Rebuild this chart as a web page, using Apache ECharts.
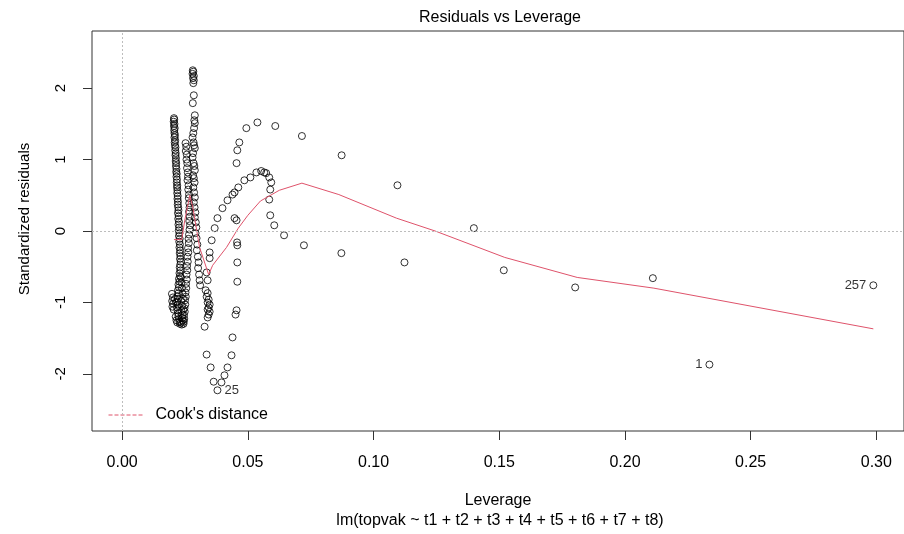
<!DOCTYPE html>
<html><head><meta charset="utf-8">
<script src="https://cdn.jsdelivr.net/npm/echarts@6/dist/echarts.min.js"></script>
<style>html,body{margin:0;padding:0;background:#fff}#c{width:904px;height:534px}</style>
</head><body><div id="c"></div>
<script>
const FONT = '"Liberation Sans", Arial, Helvetica, sans-serif';

// tick values and labels
const xTicks = [0, 0.05, 0.10, 0.15, 0.20, 0.25, 0.30];
const xTickLabels = ['0.00', '0.05', '0.10', '0.15', '0.20', '0.25', '0.30'];
const yTicks = [-2, -1, 0, 1, 2];
const yTickLabels = ['-2', '-1', '0', '1', '2'];

// observations [leverage, standardized residual]
const stripA = [[.0206,1.58],[.0207,1.56],[.0205,1.53],[.0208,1.50],[.0206,1.47],[.0209,1.44],[.0207,1.41],[.0208,1.37],[.0210,1.34],[.0208,1.31],[.0211,1.27],[.0209,1.24],[.0210,1.20],[.0212,1.17],[.0211,1.13],[.0213,1.09],[.0212,1.06],[.0214,1.02],[.0213,0.98],[.0215,0.95],[.0214,0.91],[.0216,0.87],[.0215,0.83],[.0217,0.80],[.0216,0.76],[.0218,0.72],[.0217,0.68],[.0219,0.64],[.0218,0.61],[.0220,0.57],[.0219,0.53],[.0221,0.49],[.0220,0.45],[.0222,0.41],[.0221,0.37],[.0223,0.33],[.0224,0.29],[.0222,0.25],[.0225,0.21],[.0223,0.17],[.0226,0.13],[.0224,0.09],[.0227,0.05],[.0225,0.01],[.0228,-0.03],[.0226,-0.07],[.0229,-0.11],[.0227,-0.15],[.0230,-0.19],[.0228,-0.23],[.0231,-0.27],[.0229,-0.31],[.0232,-0.35],[.0230,-0.39],[.0233,-0.43],[.0231,-0.47],[.0229,-0.51],[.0232,-0.55],[.0228,-0.59],[.0230,-0.63],[.0226,-0.67],[.0228,-0.71],[.0224,-0.75],[.0226,-0.79],[.0222,-0.83],[.0224,-0.87],[.0220,-0.91],[.0222,-0.95],[.0219,-0.99],[.0221,-1.03],[.0218,-1.07],[.0220,-1.11],[.0222,-1.15],[.0224,-1.19],[.0226,-1.23],[.0228,-1.27],[.0230,-1.30]];
const clusterLow = [[.0198,-0.88],[.0202,-0.93],[.0199,-0.98],[.0203,-1.02],[.0200,-1.06],[.0205,-1.10],[.0210,-0.95],[.0214,-1.00],[.0213,-1.20],[.0216,-1.25],[.0219,-1.28],[.0235,-0.98],[.0238,-1.05],[.0236,-1.12],[.0240,-1.17],[.0239,-1.22],[.0234,-1.28],[.0237,-1.31],[.0241,-1.25],[.0243,-1.10],[.0242,-0.95],[.0240,-0.88],[.0238,-0.80],[.0236,-0.72],[.0234,-0.65]];
const stripB = [[.0252,1.23],[.0255,1.18],[.0253,1.12],[.0257,1.07],[.0256,1.00],[.0259,0.95],[.0258,0.88],[.0261,0.82],[.0262,0.76],[.0260,0.71],[.0264,0.64],[.0263,0.58],[.0266,0.51],[.0265,0.46],[.0267,0.39],[.0268,0.33],[.0266,0.27],[.0269,0.20],[.0267,0.14],[.0270,0.08],[.0268,0.02],[.0266,-0.05],[.0264,-0.11],[.0265,-0.17],[.0262,-0.24],[.0263,-0.30],[.0260,-0.36],[.0261,-0.43],[.0258,-0.49],[.0259,-0.55],[.0256,-0.61],[.0257,-0.68],[.0254,-0.74],[.0255,-0.80],[.0252,-0.86],[.0253,-0.92],[.0250,-0.97],[.0251,-1.03],[.0248,-1.08],[.0249,-1.13],[.0246,-1.18],[.0247,-1.23],[.0245,-1.27],[.0244,-1.30]];
const stripC = [[.0281,2.25],[.0283,2.23],[.0280,2.20],[.0285,2.17],[.0282,2.14],[.0285,2.11],[.0283,2.07],[.0285,1.90],[.0281,1.79],[.0289,1.62],[.0287,1.55],[.0289,1.51],[.0286,1.44],[.0283,1.37],[.0280,1.31],[.0284,1.24],[.0286,1.20],[.0289,1.16],[.0282,1.09],[.0280,1.03],[.0284,0.95],[.0287,0.91],[.0289,0.85],[.0282,0.78],[.0285,0.74],[.0288,0.68],[.0283,0.61],[.0286,0.54],[.0289,0.47],[.0285,0.40],[.0288,0.33],[.0291,0.26],[.0289,0.19],[.0293,0.12],[.0295,0.05],[.0292,-0.03],[.0296,-0.10],[.0299,-0.19],[.0297,-0.27],[.0301,-0.36],[.0304,-0.44],[.0302,-0.52],[.0306,-0.61],[.0308,-0.69],[.0310,-0.76]];
const clusterC = [[.0332,-0.83],[.0340,-0.87],[.0336,-0.92],[.0344,-0.96],[.0340,-1.00],[.0348,-1.03],[.0344,-1.07],[.0340,-1.10],[.0348,-1.13],[.0344,-1.17],[.0340,-1.21],[.0328,-1.34]];
const vee = [[.0336,-1.73],[.0352,-1.91],[.0364,-2.11],[.0395,-2.12],[.0407,-2.02],[.0419,-1.91],[.0435,-1.74],[.0439,-1.49],[.0451,-1.17],[.0455,-1.11],[.0458,-0.71],[.0458,-0.44],[.0458,-0.20],[.0457,-0.16],[.0455,0.15],[.0455,0.95],[.0458,1.13],[.0466,1.24]];
const arc = [[.0340,-0.69],[.0336,-0.58],[.0348,-0.38],[.0348,-0.30],[.0356,-0.13],[.0368,0.04],[.0379,0.18],[.0399,0.32],[.0419,0.43],[.0439,0.51],[.0447,0.54],[.0462,0.61],[.0486,0.71],[.0510,0.75],[.0534,0.82],[.0553,0.84],[.0565,0.82],[.0573,0.81],[.0585,0.75],[.0593,0.68],[.0589,0.58],[.0585,0.44],[.0589,0.22],[.0605,0.08],[.0644,-0.06],[.0723,-0.20],[.0447,0.18]];
const outer = [[.0494,1.44],[.0538,1.52],[.0609,1.47],[.0715,1.33],[.0873,1.06],[.1095,0.64],[.1399,0.04],[.0872,-0.31],[.1123,-0.44],[.1518,-0.55],[.1802,-0.79],[.2111,-0.66]];
// labelled observations [leverage, residual, case id]
const idPoints = [[.0379,-2.23,'25'],[.2336,-1.87,'1'],[.2988,-0.76,'257']];

// lowess smoother [leverage, fitted]
const smoother = [[0.0206,-0.12],[0.0237,-0.12],[0.0249,0.15],[0.0269,0.50],[0.0281,0.33],[0.0308,-0.23],[0.0344,-0.61],[0.0360,-0.48],[0.0415,-0.23],[0.0462,0.04],[0.0500,0.22],[0.0550,0.42],[0.0625,0.57],[0.0715,0.67],[0.0862,0.51],[0.1091,0.18],[0.1245,0.00],[0.1522,-0.37],[0.1810,-0.65],[0.2115,-0.80],[0.2988,-1.37]];

const X_MIN = -0.012, X_MAX = 0.311;
const RED = '#DF536B';

function lab(ticks, labels) {
  return function (v) {
    for (let i = 0; i < ticks.length; i++) if (Math.abs(ticks[i] - v) < 1e-9) return labels[i];
    return '';
  };
}

const allPts = [].concat(stripA, clusterLow, stripB, stripC, clusterC, vee, arc, outer);
const idData = idPoints.map(p => ({
  value: [p[0], p[1]],
  label: { show: true, formatter: p[2], position: p[0] < (X_MIN + X_MAX) / 2 ? 'right' : 'left', distance: 3 }
}));

const chart = echarts.init(document.getElementById('c'), null, { renderer: 'canvas' });
chart.setOption({
  animation: false,
  backgroundColor: '#fff',
  textStyle: { fontFamily: FONT },
  title: [
    { text: 'Residuals vs Leverage', left: 500, top: 10, textAlign: 'center', padding: 0,
      textStyle: { fontFamily: FONT, fontSize: 16, fontWeight: 'normal', color: '#000' } },
    { text: 'lm(topvak ~ t1 + t2 + t3 + t4 + t5 + t6 + t7 + t8)', left: 500, top: 513, textAlign: 'center', padding: 0,
      textStyle: { fontFamily: FONT, fontSize: 16, fontWeight: 'normal', color: '#000' } }
  ],
  legend: {
    data: ["Cook's distance"], left: 103, top: 402, itemWidth: 34, itemHeight: 14, itemGap: 0,
    textStyle: { fontFamily: FONT, fontSize: 16, color: '#000', padding: [0, 0, 0, 8] },
    itemStyle: { color: 'rgba(0,0,0,0)', borderWidth: 0, opacity: 0 },
    lineStyle: { type: 'dashed', color: RED, width: 1, opacity: 1 }
  },
  grid: { left: 92, top: 31, right: -5, bottom: 103, show: true, borderColor: '#333', borderWidth: 1, containLabel: false },
  xAxis: {
    type: 'value', min: X_MIN, max: X_MAX,
    axisLine: { show: false, onZero: false },
    axisTick: { show: true, customValues: xTicks, length: 9, lineStyle: { color: '#333' } },
    axisLabel: { customValues: xTicks, formatter: lab(xTicks, xTickLabels), margin: 24, fontSize: 16, color: '#000', fontFamily: FONT },
    splitLine: { show: false },
    name: 'Leverage', nameLocation: 'middle', nameGap: 62,
    nameTextStyle: { fontSize: 16, color: '#000', fontFamily: FONT }
  },
  yAxis: {
    type: 'value', min: -2.8, max: 2.8,
    axisLine: { show: false, onZero: false },
    axisTick: { show: true, customValues: yTicks, length: 9, lineStyle: { color: '#333' } },
    axisLabel: { customValues: yTicks, formatter: lab(yTicks, yTickLabels), rotate: 90, margin: 24, fontSize: 15, color: '#000', fontFamily: FONT },
    splitLine: { show: false },
    name: 'Standardized residuals', nameLocation: 'middle', nameGap: 60, nameRotate: 90,
    nameTextStyle: { fontSize: 15, color: '#000', fontFamily: FONT, padding: [0, 0, 0, 24] }
  },
  series: [
    {
      name: 'obs', type: 'scatter', symbol: 'circle', symbolSize: 7, data: allPts,
      itemStyle: { color: 'rgba(0,0,0,0)', borderColor: '#000', borderWidth: 1 },
      markLine: {
        silent: true, symbol: 'none', label: { show: false },
        lineStyle: { type: [2, 2], color: '#bdbdbd', width: 1 },
        data: [{ yAxis: 0 }, { xAxis: 0 }]
      }
    },
    {
      name: 'ids', type: 'scatter', symbol: 'circle', symbolSize: 7, data: idData,
      itemStyle: { color: 'rgba(0,0,0,0)', borderColor: '#000', borderWidth: 1 },
      label: { fontFamily: FONT, fontSize: 13, color: '#000' }
    },
    {
      name: 'smooth', type: 'line', data: smoother, symbol: 'none', smooth: false,
      lineStyle: { color: RED, width: 1 }, z: 3
    },
    {
      name: "Cook's distance", type: 'line', data: [], symbol: 'none',
      lineStyle: { type: 'dashed', color: RED, width: 1 }, itemStyle: { color: RED }
    }
  ]
});
</script></body></html>
